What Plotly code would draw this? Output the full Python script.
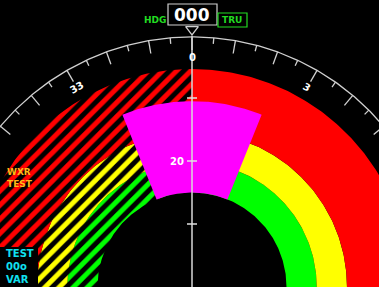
import numpy as np
import plotly.graph_objects as go

# ---------------- data ----------------
band_names = ["Level 1", "Level 2", "Level 3"]
band_inner = [15.0, 19.8, 24.6]          # NM
band_outer = [19.8, 24.6, 34.6]          # NM
band_colors = ["#00FF00", "#FFFF00", "#FF0000"]
solid_span = [0, 90]                     # heading deg, solid returns
hatched_span = [-90, 0]                  # heading deg, hatched test returns
turb_r = [15.0, 29.5]                    # turbulence cell (magenta)
turb_theta = [-22, 22]
turb_color = "#FF00FF"
compass_radius = 39.7
compass_label_text = ["33", "0", "3"]
compass_label_hdg = [-30, 0, 30]
range_marks = [10, 20, 30]
range_label_text = ["20"]
range_label_val = [20]
heading_text = "000"

# ---------------- geometry helpers ----------------
W, H = 379, 287
K = 6.3                # px per NM
CX, CY = 192, 287      # pixel position of aircraft symbol


def polar_xy(r, hdg):
    t = np.radians(np.asarray(hdg, dtype=float))
    return np.asarray(r) * np.sin(t), np.asarray(r) * np.cos(t)


def sector(r0, r1, t0, t1, n=120):
    th = np.linspace(t0, t1, n)
    xo, yo = polar_xy(r1, th)
    xi, yi = polar_xy(r0, th[::-1])
    return np.concatenate([xo, xi, xo[:1]]), np.concatenate([yo, yi, yo[:1]])


def px(x):
    return x / W


def py(y):
    return 1 - y / H


fig = go.Figure()

# solid bands (right half)
for name, r0, r1, c in zip(band_names, band_inner, band_outer, band_colors):
    x, y = sector(r0, r1, solid_span[0], solid_span[1])
    fig.add_trace(go.Scatter(x=x, y=y, fill="toself", fillcolor=c, mode="lines",
                             line=dict(width=0, color=c), name=name, hoverinfo="skip"))

# hatched bands (left half)
for name, r0, r1, c in zip(band_names, band_inner, band_outer, band_colors):
    x, y = sector(r0, r1, hatched_span[0], hatched_span[1])
    fig.add_trace(go.Scatter(x=x, y=y, fill="toself", fillcolor=c, mode="lines",
                             line=dict(width=0, color=c), name=name + " test",
                             fillpattern=dict(shape="/", fgcolor="#000000", bgcolor=c,
                                              fgopacity=1, fillmode="replace",
                                              size=10, solidity=0.5),
                             hoverinfo="skip"))

# turbulence cell
x, y = sector(turb_r[0], turb_r[1], turb_theta[0], turb_theta[1])
fig.add_trace(go.Scatter(x=x, y=y, fill="toself", fillcolor=turb_color, mode="lines",
                         line=dict(width=0, color=turb_color), name="Turbulence",
                         hoverinfo="skip"))

# compass arc
arc_h = np.linspace(-60, 60, 241)
ax_, ay_ = polar_xy(compass_radius, arc_h)
fig.add_trace(go.Scatter(x=ax_, y=ay_, mode="lines", line=dict(color="#D0D0D0", width=1.3),
                         hoverinfo="skip"))

# compass ticks
tx, ty = [], []
for h in range(-60, 61, 5):
    ln = 13 / K if h % 10 == 0 else 6 / K
    x0, y0 = polar_xy(compass_radius, h)
    x1, y1 = polar_xy(compass_radius - ln, h)
    tx += [x0, x1, None]
    ty += [y0, y1, None]
fig.add_trace(go.Scatter(x=tx, y=ty, mode="lines", line=dict(color="#D0D0D0", width=1.3),
                         hoverinfo="skip"))

# lubber line (vertical) and range marks
top_r = compass_radius + 0.2
fig.add_trace(go.Scatter(x=[0, 0], y=[0, top_r], mode="lines",
                         line=dict(color="#D8D8D8", width=1.5), hoverinfo="skip"))
rx, ry = [], []
for r in range_marks:
    rx += [-5 / K, 5 / K, None]
    ry += [r, r, None]
fig.add_trace(go.Scatter(x=rx, y=ry, mode="lines", line=dict(color="#E0E0E0", width=1.5),
                         hoverinfo="skip"))

# heading pointer
fig.add_trace(go.Scatter(x=[0], y=[compass_radius + 1.2], mode="markers",
                         marker=dict(symbol="triangle-down-open", size=11, color="#D0D0D0",
                                     line=dict(color="#D0D0D0", width=1.3)),
                         hoverinfo="skip"))

annotations = []
font_family = "DejaVu Sans"
for t, h in zip(compass_label_text, compass_label_hdg):
    lx, ly = polar_xy(compass_radius - 3.2, h)
    annotations.append(dict(x=float(lx), y=float(ly), xref="x", yref="y", text="<b>" + t + "</b>",
                            showarrow=False, textangle=h, xanchor="center", yanchor="middle",
                            font=dict(family=font_family, size=10, color="white")))
for t, r in zip(range_label_text, range_label_val):
    annotations.append(dict(x=-6 / K, y=r, xref="x", yref="y", text="<b>" + t + "</b>",
                            showarrow=False, xanchor="right", yanchor="middle",
                            font=dict(family=font_family, size=10, color="white")))


def label(text, x, y, size, color, xanchor="center"):
    annotations.append(dict(x=px(x), y=py(y), xref="paper", yref="paper",
                            text="<b>" + text + "</b>", showarrow=False,
                            xanchor=xanchor, yanchor="middle", align="left",
                            font=dict(family=font_family, size=size, color=color)))


# header
label(heading_text, 192, 15, 17, "white")
label("HDG", 155, 20, 9, "#22DD22")
label("TRU", 232, 20, 9, "#22DD22")
label("WXR<br>TEST", 5, 178, 9, "#FFB818", "left")
label("TEST<br>00o<br>VAR", 4, 266, 10, "#10E0F0", "left")

shapes = [
    dict(type="rect", xref="paper", yref="paper", x0=px(168), x1=px(217), y0=py(25), y1=py(4),
         line=dict(color="#D0D0D0", width=1.2), fillcolor="black"),
    dict(type="rect", xref="paper", yref="paper", x0=px(218), x1=px(247), y0=py(27), y1=py(13),
         line=dict(color="#22DD22", width=1.2), fillcolor="black"),
    dict(type="rect", xref="paper", yref="paper", x0=0, x1=px(38), y0=0, y1=py(247),
         line=dict(width=0), fillcolor="black", layer="above"),
]

fig.update_layout(
    width=W, height=H,
    margin=dict(l=0, r=0, t=0, b=0),
    paper_bgcolor="black", plot_bgcolor="black",
    showlegend=False,
    xaxis=dict(range=[-CX / K, (W - CX) / K], visible=False, fixedrange=True),
    yaxis=dict(range=[(CY - H) / K, CY / K], visible=False, fixedrange=True),
    annotations=annotations,
    shapes=shapes,
)

fig.write_html("out.html", config={"displayModeBar": False},
               post_script="document.body.style.margin='0';document.body.style.background='black';")
